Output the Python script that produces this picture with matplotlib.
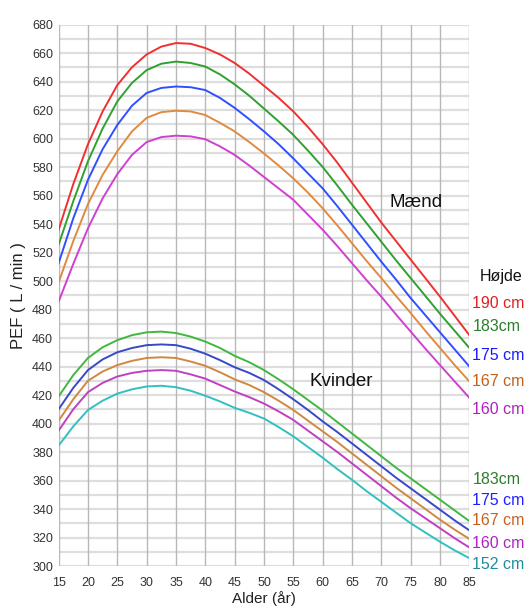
import matplotlib
matplotlib.use("Agg")
import matplotlib.pyplot as plt

plt.rcParams['font.family'] = ['Liberation Sans', 'DejaVu Sans']

age = [15, 17.5, 20, 22.5, 25, 27.5, 30, 32.5, 35, 37.5, 40, 42.5, 45, 47.5, 50,
       52.5, 55, 57.5, 60, 62.5, 65, 67.5, 70, 72.5, 75, 77.5, 80, 82.5, 85]

men_190 = [536, 568, 596, 619, 637.5, 650, 659, 664.5, 667, 666.5, 663.5, 659, 653, 645.5, 637,
           628.5, 619, 608, 596, 583, 569, 555, 541, 528, 515, 502, 489, 475.5, 462]
men_183 = [525.5, 556, 584, 607, 626, 639, 648, 652.5, 654, 653, 650.5, 645, 638, 630, 621,
           612, 602.5, 591.5, 580, 567, 553.5, 540.5, 527.5, 514.5, 502, 489.5, 477, 465, 453]
men_175 = [512.5, 544, 571, 592.5, 609.5, 623, 632, 635.5, 636.5, 636, 634, 628.5, 621.5, 613.5, 605,
           596, 586, 575.5, 565, 552.5, 539.5, 526.5, 513.5, 501, 488, 476, 464, 452, 440]
men_167 = [499, 528, 554, 574.5, 591, 605, 614.5, 618.5, 619.5, 619, 616.5, 611, 605, 597.5, 589.5,
           581, 572, 562, 551, 539, 526.5, 514, 502, 489.5, 477.5, 465, 453, 441, 429.5]
men_160 = [485.5, 512, 537, 558, 575, 588.5, 597.5, 601, 602, 601.5, 599.5, 594.5, 588.5, 581, 573,
           565, 557, 546.5, 536, 524.5, 512.5, 500.5, 489, 476.5, 464.5, 452.5, 441, 429.5, 418]

women_183 = [419, 434, 446, 453.5, 458.5, 462, 464, 464.5, 463.5, 461, 457.5, 453, 447.5, 443, 437.5,
             431, 424, 416.5, 409, 401, 393, 385, 377, 369, 361.5, 354, 346.5, 339, 331.5]
women_175 = [410, 425, 437.5, 445, 450, 453, 455, 455.5, 455, 452.5, 449, 444.5, 439.5, 435.5, 430.5,
             424, 417, 409.5, 401.5, 394, 386, 378, 370, 362, 354.5, 347, 339.5, 332, 325]
women_167 = [402, 417, 430, 436.5, 441, 444, 446, 446.5, 446, 443.5, 440.5, 436, 431, 427, 422,
             416, 409.5, 402, 394.5, 387, 379, 371, 363, 355, 347.5, 340, 332.5, 325.5, 319]
women_160 = [395, 410, 422, 428.5, 433, 435.5, 437, 437.5, 437, 434.5, 431.5, 427, 422.5, 418.5, 414,
             408.5, 402.5, 395, 387.5, 380, 372, 364, 356, 348, 340.5, 333.5, 326.5, 319.5, 313]
women_152 = [384.5, 398, 409.5, 416, 421, 424, 426, 426.5, 425.5, 423, 419.5, 415.5, 411, 407.5, 403.5,
             397.5, 391, 383.5, 376, 368, 360.5, 352.5, 345, 337.5, 330, 323.5, 317, 311, 305.5]

men_labels = ["190 cm", "183cm", "175 cm", "167 cm", "160 cm"]
women_labels = ["183cm", "175 cm", "167 cm", "160 cm", "152 cm"]

x_ticks = list(range(15, 86, 5))
y_ticks = list(range(300, 681, 20))

fig = plt.figure(figsize=(5.28, 6.07), dpi=100)
ax = fig.add_axes([0.111, 0.0675, 0.778, 0.8921])

# grid
for xv in x_ticks:
    ax.axvline(xv, color='#b8b8b8', lw=1.0, zorder=1)
for yv in range(300, 681, 10):
    ax.axhline(yv, color='#dedede', lw=1.6, zorder=0)

men_series = [men_190, men_183, men_175, men_167, men_160]
men_colors = ['#f03030', '#30a030', '#3050ff', '#e08a40', '#d040d0']
for s, c in zip(men_series, men_colors):
    ax.plot(age, s, color=c, lw=1.4, zorder=3, solid_joinstyle='round')

women_series = [women_183, women_175, women_167, women_160, women_152]
women_colors = ['#40b840', '#3848c8', '#d08840', '#c040c0', '#30c0c0']
for s, c in zip(women_series, women_colors):
    ax.plot(age, s, color=c, lw=1.4, zorder=3, solid_joinstyle='round')

ax.set_xlim(15, 85)
ax.set_ylim(300, 680)
ax.set_xticks(x_ticks)
ax.set_yticks(y_ticks)
ax.tick_params(length=0, labelsize=9, colors='#333333')
ax.tick_params(axis='x', pad=8)
ax.tick_params(axis='y', pad=4)
for sp in ax.spines.values():
    sp.set_visible(False)

ax.set_xlabel("Alder (år)", fontsize=11, color='#222222', labelpad=1)
ax.set_ylabel("PEF ( L / min )", fontsize=12, color='#222222', labelpad=4)

ax.text(71.4, 555, "Mænd", fontsize=13.5, ha='left', va='center', color='#111111')
ax.text(57.7, 429.5, "Kvinder", fontsize=13.5, ha='left', va='center', color='#111111')

ax.text(86.7, 503, "Højde", fontsize=11.5, ha='left', va='center', color='#111111', clip_on=False)

men_label_y = [484.4, 467.9, 448, 429.3, 409.5]
men_label_colors = ['#e02020', '#2d7d2d', '#1a1aff', '#c0601a', '#b020c0']
for t, yv, c in zip(men_labels, men_label_y, men_label_colors):
    ax.text(85.5, yv, t, fontsize=11.5, ha='left', va='center', color=c, clip_on=False)

women_label_y = [360.9, 346.3, 331.8, 315.9, 301.4]
women_label_colors = ['#2d7d2d', '#2020ff', '#c86020', '#b020c8', '#208c9c']
for t, yv, c in zip(women_labels, women_label_y, women_label_colors):
    ax.text(85.5, yv, t, fontsize=11.5, ha='left', va='center', color=c, clip_on=False)

fig.savefig("out.png", dpi=100)
